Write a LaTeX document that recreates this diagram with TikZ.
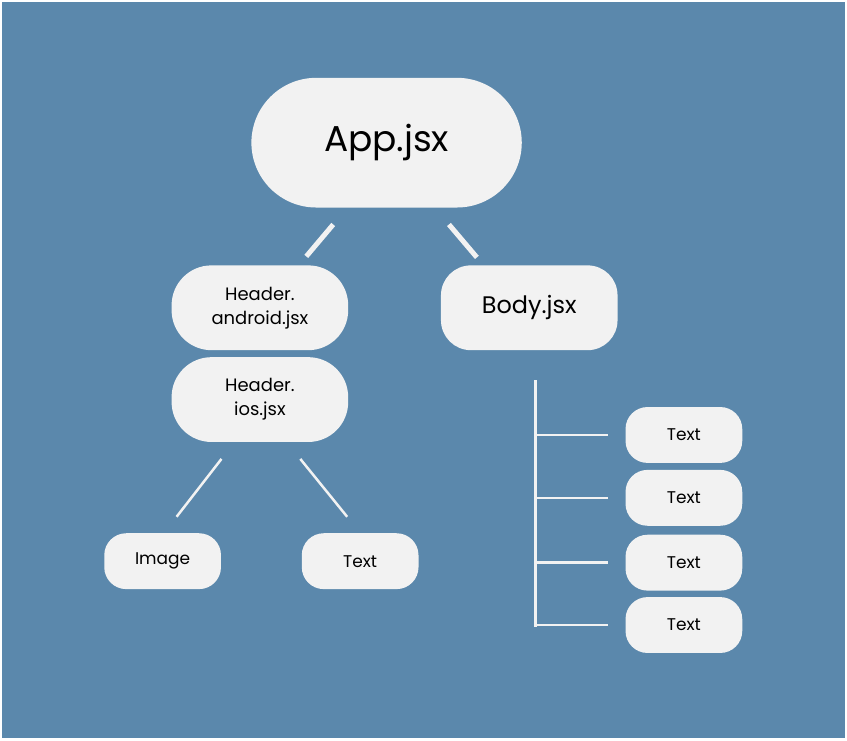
\documentclass[tikz,border=0pt]{standalone}
\usepackage{fontspec}
\setmainfont{Poppins}
\usetikzlibrary{positioning}
\definecolor{bgblue}{HTML}{5B88AC}
\definecolor{boxfill}{HTML}{F2F2F2}
\tikzstyle{box} = [fill=boxfill, text centered, align=center, inner sep=0pt]
\tikzstyle{leaf} = [box, rounded corners=22pt, minimum width=117pt, minimum height=56pt, font=\fontsize{17}{20}\selectfont]
\tikzstyle{link} = [draw=boxfill, line width=2.5pt]

\begin{document}
\begin{tikzpicture}[x=1pt, y=-1pt]
        \fill[bgblue, draw=white, line width=2pt] (0,0) rectangle (847,740);

        \node[box, rounded corners=65pt, minimum width=271pt, minimum height=130pt, font=\fontsize{36}{40}\selectfont] (app) at (386.5,142) {App.jsx};
        \node[box, rounded corners=40pt, minimum width=177pt, minimum height=85pt, font=\fontsize{18}{24}\selectfont] (hand) at (259.5,307.5) {Header.\\android.jsx};
        \node[box, rounded corners=40pt, minimum width=177pt, minimum height=85pt, font=\fontsize{18}{24}\selectfont] (hios) at (259.5,399.5) {Header.\\ios.jsx};
        \node[box, rounded corners=30pt, minimum width=177pt, minimum height=85pt, font=\fontsize{24}{28}\selectfont] (body) at (529.5,307.5) {Body.jsx};
        \node[leaf] (image) at (162,561.5) {Image};
        \node[leaf] (text0) at (360,561.5) {Text};
        \node[leaf] (text1) at (684.5,435) {Text};
        \node[leaf] (text2) at (684.5,498) {Text};
        \node[leaf] (text3) at (684.5,563) {Text};
        \node[leaf] (text4) at (684.5,625.5) {Text};

        % branch ends
        \coordinate (a1) at (333,224); \coordinate (a2) at (306,256);
        \coordinate (b1) at (449,224); \coordinate (b2) at (477,257);
        \coordinate (c1) at (221,459); \coordinate (c2) at (176,517);
        \coordinate (d1) at (300,459); \coordinate (d2) at (347,517);
        \coordinate (top) at (536,380); \coordinate (bot) at (536,627);

        \draw[link, line width=5pt] (a1) -- (a2);
        \draw[link, line width=5pt] (b1) -- (b2);
        \draw[link] (c1) -- (c2);
        \draw[link] (d1) -- (d2);
        \draw[link, line width=3.5pt] (top) -- (bot);
        \foreach \t in {text1,text2,text3,text4}
            \draw[link] (top |- \t) -- ([xshift=-17pt]\t.west);
    \end{tikzpicture}
\end{document}
